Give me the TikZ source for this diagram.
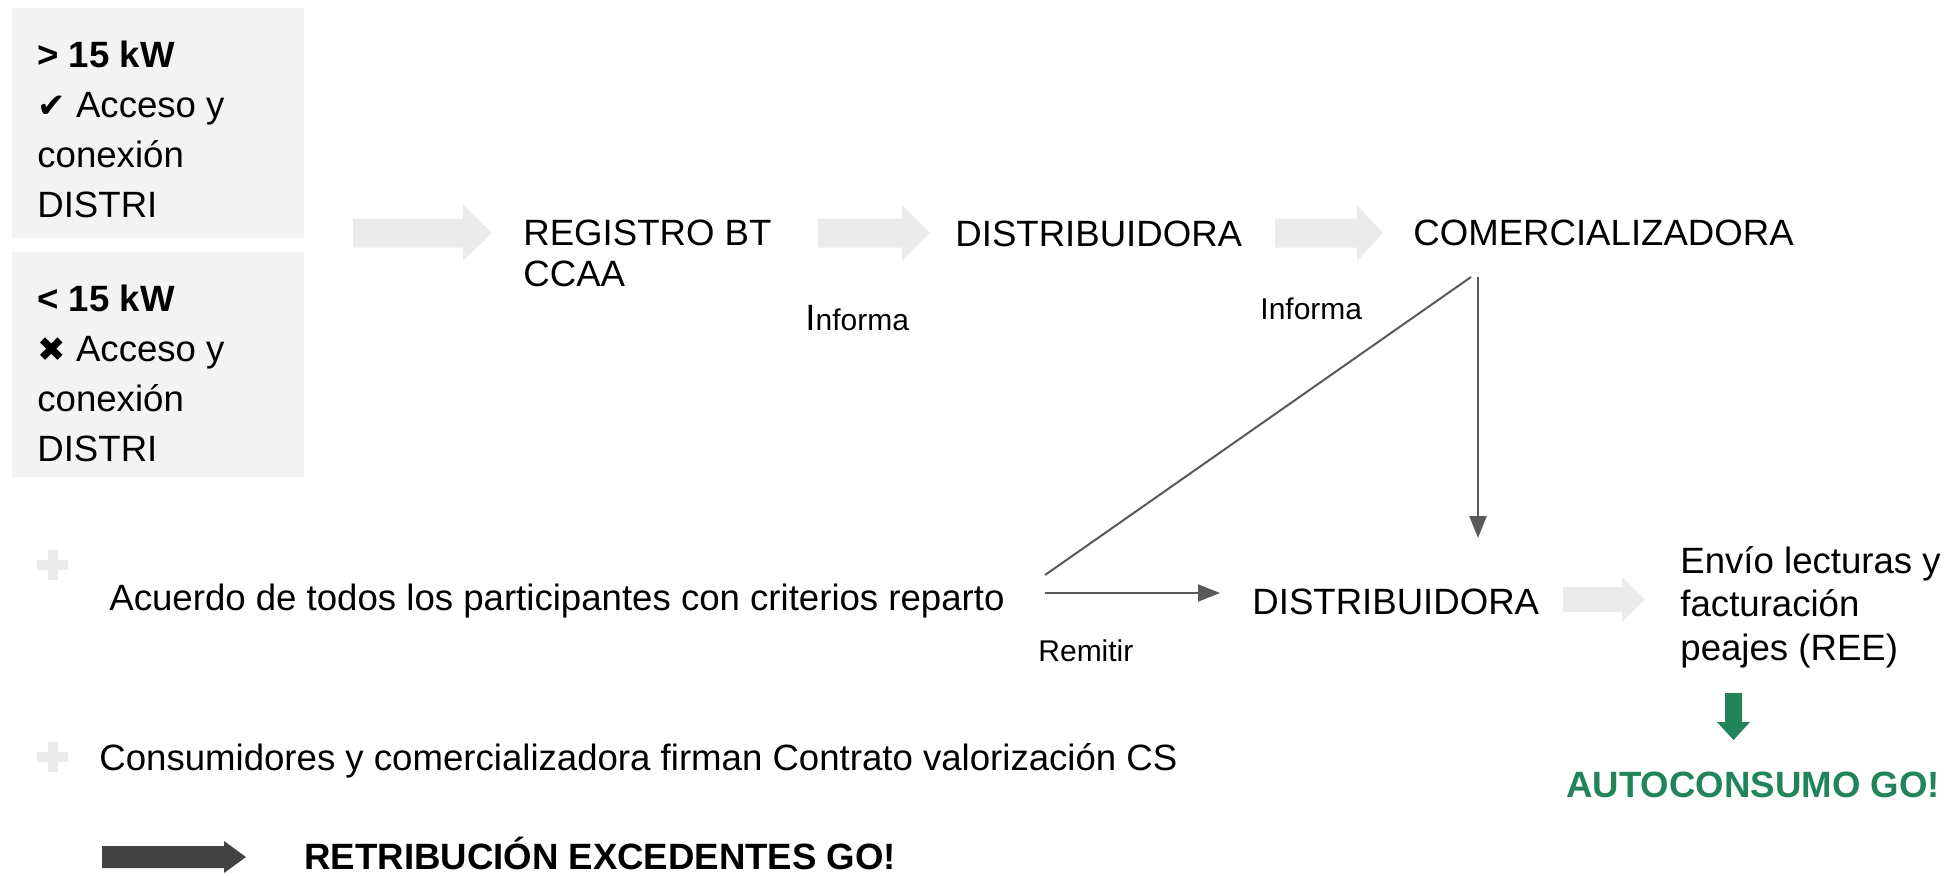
\documentclass[tikz,border=0pt]{standalone}
\usepackage{fontspec}
\setmainfont{Liberation Sans}
\newfontfamily\symfont{DejaVu Sans}
\usetikzlibrary{arrows.meta}
\definecolor{boxgray}{HTML}{F3F3F3}
\definecolor{arrgray}{HTML}{EBEBEB}
\definecolor{linegray}{HTML}{595959}
\definecolor{darkarr}{HTML}{434343}
\definecolor{gogreen}{HTML}{22845A}
% block arrow: color, x start, head start, tip, y center, body half, head half
\newcommand{\blockarr}[7]{%
  \fill[#1] ({#2},{#5-#6}) -- ({#3},{#5-#6}) -- ({#3},{#5-#7}) -- ({#4},{#5})
    -- ({#3},{#5+#7}) -- ({#3},{#5+#6}) -- ({#2},{#5+#6}) -- cycle;}
\begin{document}
\begin{tikzpicture}[x=0.5pt,y=-0.5pt,
  txt/.style={anchor=base west, inner sep=0pt, align=left, font=\fontsize{18.3}{25}\selectfont},
  lbl/.style={anchor=base west, inner sep=0pt, font=\fontsize{15}{18}\selectfont},
  conn/.style={draw=linegray, line width=1pt},
  tipped/.style={-{Triangle[length=11pt,width=8.5pt]}}]
\useasboundingbox (0,0) rectangle (1947,875);

% condition boxes (multi-line nodes: base = last line)
\fill[boxgray] (12,8) rectangle (304,238);
\fill[boxgray] (12,252) rectangle (304,477);
\node[txt] (gt) at (37,217) {\textbf{> 15 kW}\\{\symfont\fontsize{17}{25}\selectfont ✔} Acceso y\\conexión\\DISTRI};
\node[txt] (lt) at (37,461) {\textbf{< 15 kW}\\{\symfont\fontsize{17}{25}\selectfont ✖} Acceso y\\conexión\\DISTRI};

% top flow
\blockarr{arrgray}{353}{463}{492}{233}{14.5}{28}
\node[txt, font=\fontsize{18.3}{20.5}\selectfont] (reg) at (523,286) {REGISTRO BT\\CCAA};
\blockarr{arrgray}{818}{902}{930}{233}{14.5}{28}
\node[lbl] (inf1) at (805,330) {{\fontsize{18.3}{18}\selectfont I}nforma};
\node[txt] (dist1) at (955,246) {DISTRIBUIDORA};
\blockarr{arrgray}{1275}{1357}{1383}{233}{14.5}{28}
\node[txt] (com) at (1413,245) {COMERCIALIZADORA};
\node[lbl] (inf2) at (1260,319) {Informa};

% bottom rows
\fill[arrgray] (37,560) rectangle (68,570);
\fill[arrgray] (48,550) rectangle (58,580);
\node[txt] (acu) at (109,610) {Acuerdo de todos los participantes con criterios reparto};
\fill[arrgray] (37,752) rectangle (68,762);
\fill[arrgray] (48,742) rectangle (58,772);
\node[txt] (cons) at (99,770) {Consumidores y comercializadora firman Contrato valorización CS};
\blockarr{darkarr}{102}{224}{246}{857}{11}{16}
\node[txt, font=\fontsize{18.3}{25}\selectfont\bfseries] (retr) at (304,869) {RETRIBUCIÓN EXCEDENTES GO!};

% connectors
\coordinate (diagTop) at (1471,277);
\coordinate (diagBot) at (1045,575);
\coordinate (vertTop) at (1478,277);
\coordinate (vertBot) at (1478,538);
\coordinate (remA) at (1045,593);
\coordinate (remB) at (1220,593);
\draw[conn] (diagBot) -- (diagTop);
\draw[conn, tipped] (vertTop) -- (vertBot);
\draw[conn, tipped] (remA) -- (remB);
\node[lbl] (rem) at (1038,661) {Remitir};

\node[txt] (dist2) at (1252,614) {DISTRIBUIDORA};
\blockarr{arrgray}{1563}{1622}{1645}{599.5}{12.5}{22.5}
\node[txt, font=\fontsize{18.3}{21.75}\selectfont] (envio) at (1680,660) {Envío lecturas y\\facturación\\peajes (REE)};

% green result
\fill[gogreen] (1725,693) -- (1742,693) -- (1742,722) -- (1750,722) -- (1733.5,740)
  -- (1717,722) -- (1725,722) -- cycle;
\node[txt, font=\fontsize{18.3}{25}\selectfont\bfseries, text=gogreen] (go) at (1566,797) {AUTOCONSUMO GO!};
\end{tikzpicture}
\end{document}
